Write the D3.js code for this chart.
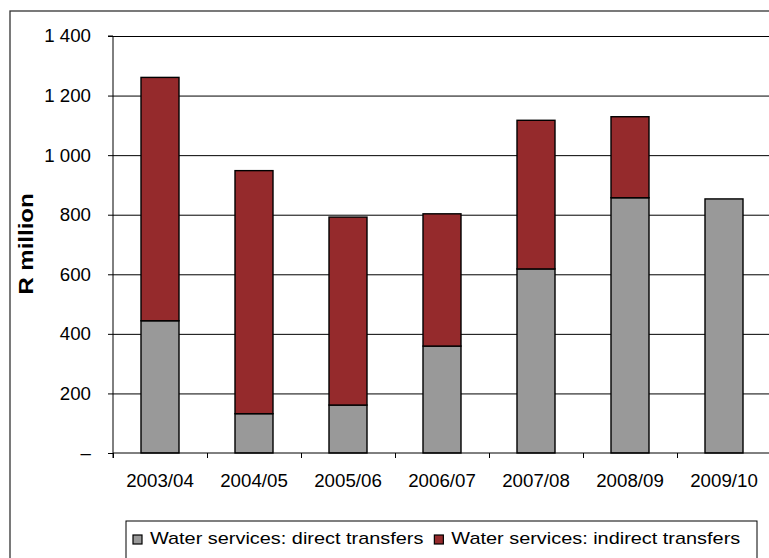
<!DOCTYPE html>
<html>
<head>
<meta charset="utf-8">
<script src="https://cdn.jsdelivr.net/npm/d3@7"></script>
<style>
  html, body { margin: 0; padding: 0; background: #fff; }
  svg { display: block; font-family: "Liberation Sans", Arial, sans-serif; }
</style>
</head>
<body>
<svg id="chart" width="769" height="558"></svg>
<script>
// Transfers for water services, R million
const years = ["2003/04", "2004/05", "2005/06", "2006/07", "2007/08", "2008/09", "2009/10"];
const directTransfers = [444, 132, 161, 359, 618, 857, 853];
const indirectTransfers = [817, 816, 631, 444, 499, 272, 0];
const seriesNames = ["Water services: direct transfers", "Water services: indirect transfers"];
const seriesColors = ["#999999", "#952a2c"];
const yTicks = [0, 200, 400, 600, 800, 1000, 1200, 1400];

const svg = d3.select("#chart");

// Plot frame
const plotLeft = 113, plotRight = 771, plotTop = 36, plotBottom = 453;

// Outer chart border
svg.append("rect")
  .attr("x", 10).attr("y", 11)
  .attr("width", 800).attr("height", 600)
  .attr("fill", "none").attr("stroke", "#333").attr("stroke-width", 1.3);

const y = d3.scaleLinear().domain([0, 1400]).range([plotBottom, plotTop]);
const pad = 56 / 94;
const x = d3.scaleBand().domain(years).range([plotLeft, plotRight])
  .paddingInner(pad).paddingOuter(pad / 2);
const edges = d3.scaleLinear().domain([0, years.length]).range([plotLeft, plotRight]);

// Gridlines
svg.append("g")
  .attr("transform", `translate(${plotLeft},0)`)
  .call(d3.axisLeft(y).tickValues(yTicks.slice(1)).tickSize(-(plotRight - plotLeft)).tickFormat(""))
  .call(g => g.select(".domain").remove())
  .call(g => g.selectAll("line").attr("stroke", "#000").attr("stroke-width", 1));

// Stacked bars
const rows = years.map((yr, i) => ({ year: yr, direct: directTransfers[i], indirect: indirectTransfers[i] }));
const stack = d3.stack().keys(["direct", "indirect"]);
const layers = stack(rows);

svg.append("g").selectAll("g")
  .data(layers)
  .join("g")
  .attr("fill", (d, i) => seriesColors[i])
  .selectAll("rect")
  .data(d => d.filter(s => s[1] - s[0] > 0))
  .join("rect")
  .attr("x", d => x(d.data.year))
  .attr("width", x.bandwidth())
  .attr("y", d => y(d[1]))
  .attr("height", d => y(d[0]) - y(d[1]))
  .attr("stroke", "#000")
  .attr("stroke-width", 1.4);

// Y axis
const fmt = v => v === 0 ? "\u2013" : d3.format(",")(v).replace(/,/g, " ");
svg.append("g")
  .attr("transform", `translate(${plotLeft},0)`)
  .call(d3.axisLeft(y).tickValues(yTicks).tickSize(5).tickPadding(17).tickFormat(fmt))
  .call(g => g.select(".domain").attr("stroke", "#000").attr("d", `M-5,${plotTop}H0V${plotBottom + 5}`))
  .call(g => g.selectAll("line").attr("stroke", "#000"))
  .call(g => g.selectAll("text")
    .attr("font-size", 18.7)
    .attr("font-family", "Liberation Sans, Arial, sans-serif")
    .attr("fill", "#000"));

// X axis with ticks at category boundaries
svg.append("g")
  .attr("transform", `translate(0,${plotBottom})`)
  .call(d3.axisBottom(edges).tickValues(d3.range(years.length + 1)).tickSize(5).tickFormat(""))
  .call(g => g.select(".domain").attr("stroke", "#000").attr("d", `M${plotLeft},0H${plotRight}`))
  .call(g => g.selectAll("line").attr("stroke", "#000"));

svg.append("g").selectAll("text")
  .data(years)
  .join("text")
  .attr("x", d => x(d) + x.bandwidth() / 2)
  .attr("y", 487)
  .attr("text-anchor", "middle")
  .attr("font-size", 18.7)
  .attr("fill", "#000")
  .text(d => d);

// Y axis title
svg.append("text")
  .attr("transform", "translate(33,244) rotate(-90) scale(1.17,1)")
  .attr("text-anchor", "middle")
  .attr("font-size", 20.5)
  .attr("font-weight", "bold")
  .attr("fill", "#000")
  .text("R million");

// Legend
const legend = svg.append("g");
legend.append("rect")
  .attr("x", 126).attr("y", 521)
  .attr("width", 631).attr("height", 80)
  .attr("fill", "#fff").attr("stroke", "#000").attr("stroke-width", 1);

let cursor = 133;
seriesNames.forEach((name, i) => {
  const item = legend.append("g").attr("transform", `translate(${cursor},0)`);
  item.append("rect")
    .attr("x", 0).attr("y", 535)
    .attr("width", 9).attr("height", 9)
    .attr("fill", seriesColors[i]).attr("stroke", "#000").attr("stroke-width", 1.2);
  const t = item.append("g").attr("transform", "translate(17,544) scale(1.17,1)");
  const txt = t.append("text")
    .attr("x", 0).attr("y", 0)
    .attr("font-size", 17)
    .attr("fill", "#000")
    .text(name);
  cursor += 17 + txt.node().getComputedTextLength() * 1.17 + 11;
});
</script>
</body>
</html>
